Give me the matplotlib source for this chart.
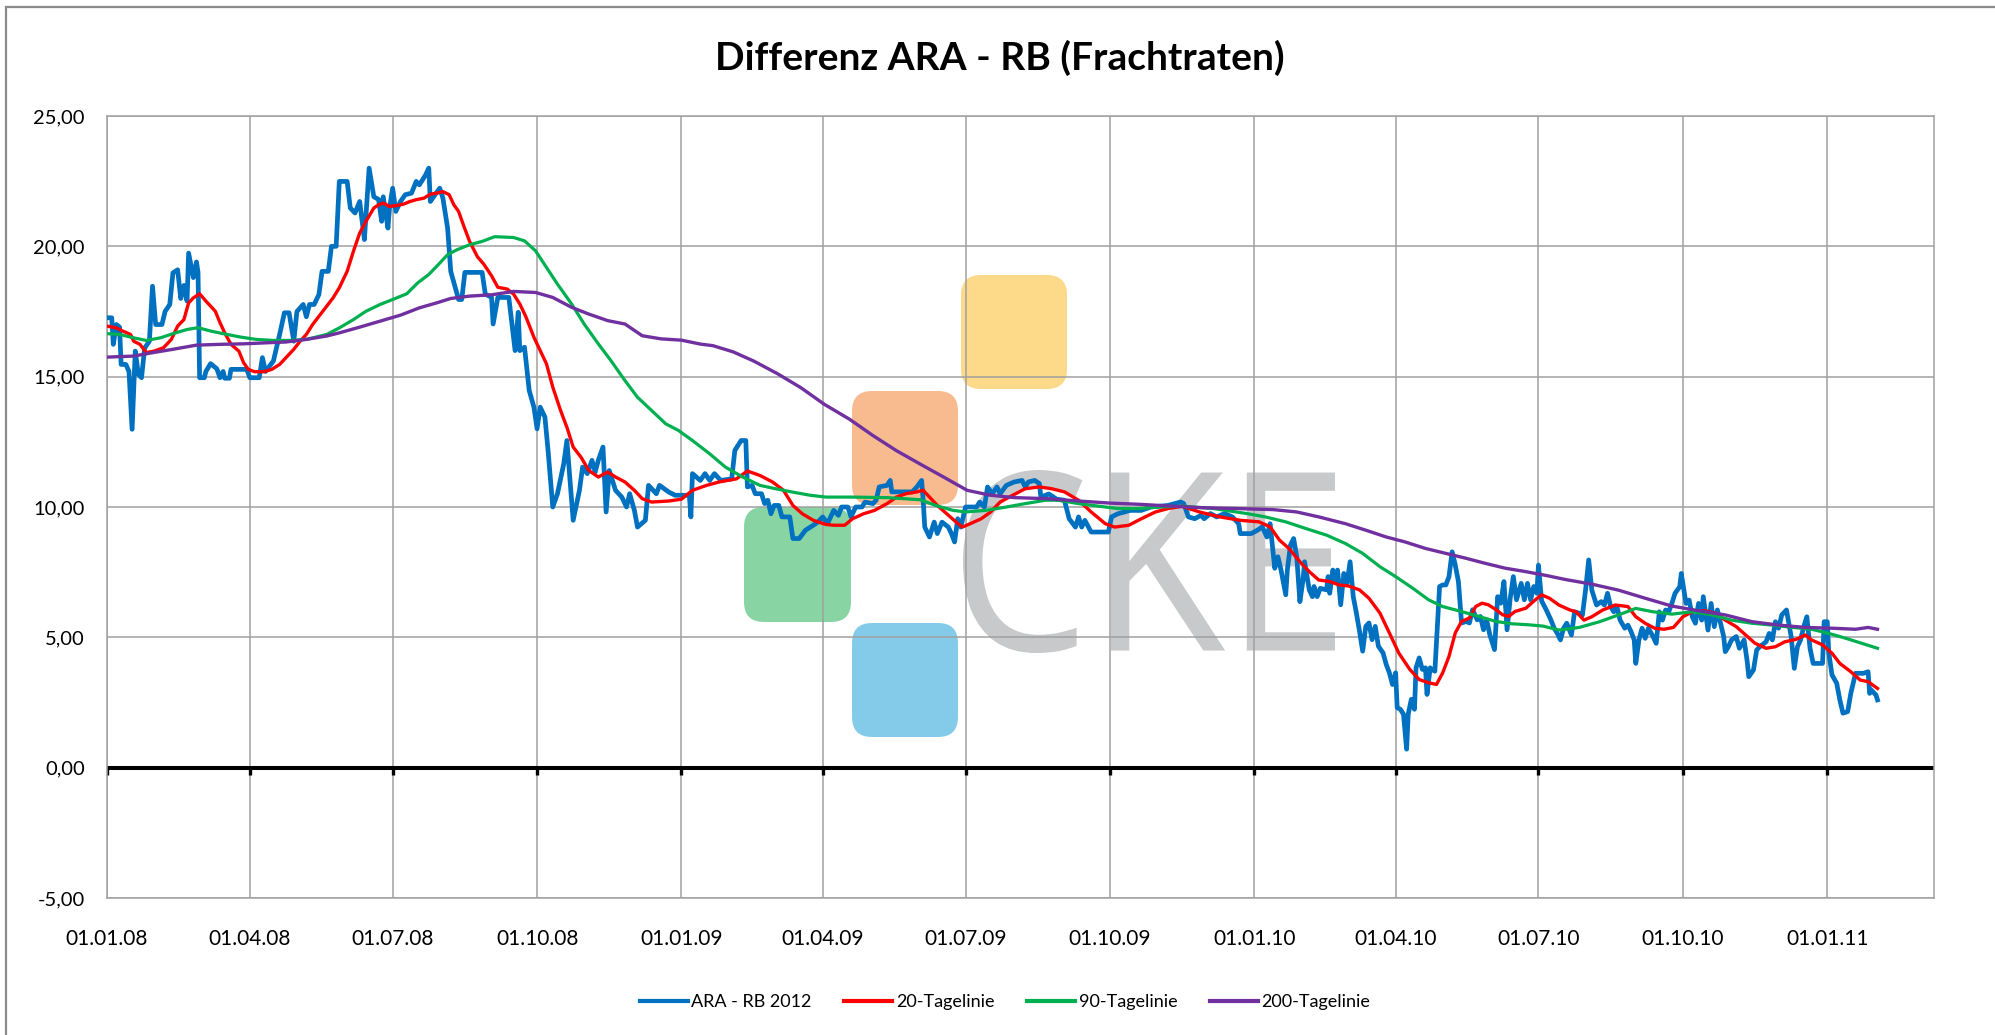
import numpy as np
import matplotlib
matplotlib.use("Agg")
import matplotlib.pyplot as plt
import matplotlib.dates as mdates
from matplotlib.patches import FancyBboxPatch, PathPatch, Rectangle
from matplotlib.textpath import TextPath
from matplotlib.font_manager import FontProperties
from matplotlib.transforms import Affine2D

plt.rcParams['font.family'] = ['Lato', 'DejaVu Sans']

# day offset from 01.01.2008, value
start = np.datetime64('2008-01-01')

ara_rb = [(0,17.26),(3,17.26),(4,16.24),(6,17.0),(8,16.9),(9,15.47),(12,15.47),(14,15.2),(16,12.98),(18,15.98),
    (20,15.09),(22,14.96),(24,16.1),(27,16.36),(29,18.47),(31,17.0),(35,17.0),(37,17.5),(40,17.77),(42,18.98),
    (45,19.1),(47,18.0),(49,18.5),(51,17.9),(52,19.74),(55,18.8),(57,19.4),(58,19.0),(59,14.96),(62,14.96),
    (63,15.2),(66,15.5),(70,15.3),(72,14.96),(74,15.2),(75,14.94),(78,14.94),(79,15.28),(89,15.28),(91,14.96),
    (97,14.96),(99,15.73),(101,15.2),(106,15.6),(110,16.62),(113,17.45),(116,17.45),(119,16.36),(121,17.5),(125,17.77),
    (127,17.3),(129,17.77),(132,17.77),(135,18.15),(137,19.04),(141,19.04),(143,20.0),(146,20.0),(148,22.49),(153,22.49),
    (155,21.47),(158,21.28),(161,21.72),(164,20.26),(165,21.2),(167,23.0),(170,21.9),(173,21.8),(175,20.96),(176,21.9),
    (179,20.7),(180,21.47),(182,22.23),(184,21.34),(187,21.72),(190,21.98),(194,22.04),(197,22.49),(199,22.36),(203,22.74),
    (205,23.0),(206,21.72),(209,21.98),(212,22.23),(214,21.85),(217,20.7),(219,19.04),(222,18.4),(224,17.96),(226,17.96),
    (228,19.0),(239,19.0),(241,18.17),(245,18.04),(246,17.02),(249,18.04),(256,18.04),(257,17.53),(260,16.0),(262,17.47),
    (263,16.0),(266,16.13),(269,14.47),(272,13.83),(274,13.0),(276,13.83),(279,13.45),(281,12.17),(284,10.0),(287,10.51),
    (291,11.66),(293,12.55),(297,9.49),(301,10.64),(303,11.53),(306,11.28),(309,11.79),(311,11.34),(313,11.79),(316,12.3),
    (318,9.81),(320,11.4),(324,10.64),(328,10.38),(331,10.0),(333,10.51),(336,9.87),(338,9.23),(343,9.49),(345,10.83),
    (350,10.51),(352,10.83),(358,10.57),(362,10.45),(371,10.45),(372,9.62),(373,11.28),(378,11.02),(381,11.28),(384,11.02),
    (387,11.28),(391,11.02),(398,11.08),(400,12.17),(404,12.55),(407,12.55),(408,10.77),(411,10.83),(413,10.51),(417,10.51),
    (419,10.13),(421,10.26),(423,9.74),(425,10.06),(428,10.06),(430,9.62),(435,9.62),(437,8.79),(441,8.79),(445,9.11),
    (450,9.3),(453,9.43),(456,9.62),(459,9.36),(463,9.87),(466,9.68),(468,10.0),(472,10.0),(474,9.62),(477,10.0),
    (481,10.0),(483,10.19),(488,10.13),(490,10.26),(492,10.77),(497,10.83),(499,11.02),(500,10.58),(513,10.58),(516,10.77),
    (519,11.02),(520,10.26),(521,9.23),(524,8.85),(527,9.42),(529,8.98),(532,9.42),(536,9.23),(538,8.98),(540,8.66),
    (542,9.55),(544,9.23),(547,10.0),(554,10.0),(556,10.19),(559,10.0),(561,10.77),(564,10.51),(567,10.77),(569,10.51),
    (573,10.83),(578,10.96),(583,11.02),(585,10.77),(587,10.96),(591,11.02),(594,10.9),(595,10.38),(600,10.5),(605,10.3),
    (610,10.26),(613,9.55),(617,9.23),(619,9.62),(621,9.23),(623,9.49),(627,9.04),(632,9.04),(638,9.04),(640,9.62),
    (644,9.74),(652,9.87),(659,9.87),(665,10.0),(676,10.06),(684,10.19),(686,10.13),(689,9.62),(693,9.55),(697,9.68),
    (699,9.55),(703,9.75),(707,9.62),(712,9.75),(717,9.62),(721,9.36),(722,8.98),(729,8.98),(733,9.11),(736,9.24),
    (739,8.85),(741,9.36),(742,8.79),(744,7.65),(746,8.09),(748,7.58),(751,6.63),(752,7.58),(754,8.54),(756,8.79),
    (758,8.09),(760,6.37),(762,7.2),(763,7.9),(766,6.82),(768,6.56),(769,6.95),(771,6.56),(773,6.88),(777,6.82),
    (778,7.33),(779,6.69),(781,7.58),(783,7.2),(784,7.58),(786,6.25),(788,7.45),(790,7.07),(792,7.9),(794,6.56),
    (796,5.93),(798,5.23),(800,4.47),(802,5.42),(804,5.55),(806,4.91),(808,5.42),(810,4.66),(813,4.4),(815,3.96),
    (817,3.64),(819,3.19),(821,3.64),(822,2.3),(824,2.24),(826,2.05),(828,0.71),(829,2.05),(831,2.62),(833,2.24),
    (834,3.83),(836,4.21),(838,3.77),(840,3.83),(841,2.81),(843,3.83),(844,3.77),(846,3.7),(849,6.95),(851,7.01),
    (853,7.01),(855,7.33),(857,8.28),(859,7.77),(861,7.14),(863,5.55),(866,5.61),(868,5.55),(870,6.06),(873,5.67),
    (875,5.8),(877,5.29),(879,5.67),(881,5.1),(884,4.53),(886,6.56),(888,6.31),(890,7.14),(892,5.29),(894,6.5),
    (896,7.33),(898,6.44),(901,7.07),(903,6.44),(905,7.07),(907,6.44),(909,6.95),(911,6.69),(912,7.77),(914,6.4),
    (917,6.05),(920,5.66),(922,5.35),(924,5.15),(926,4.9),(928,5.35),(930,5.54),(933,5.09),(935,5.98),(938,5.92),
    (940,5.85),(942,6.81),(944,7.97),(946,6.81),(949,6.24),(952,6.37),(954,6.24),(956,6.69),(958,6.18),(960,5.98),
    (962,6.18),(964,5.66),(967,5.35),(969,5.47),(971,5.22),(973,4.9),(974,4.0),(976,4.9),(978,5.35),(980,4.96),
    (982,5.35),(985,5.03),(987,4.77),(989,5.98),(991,5.66),(993,6.05),(995,5.98),(997,6.3),(999,6.69),(1002,6.94),
    (1003,7.45),(1005,6.69),(1006,6.3),(1008,6.43),(1010,5.79),(1012,5.54),(1014,6.3),(1016,5.66),(1017,6.56),(1020,5.28),
    (1022,6.3),(1024,5.41),(1026,6.05),(1028,5.54),(1030,5.03),(1031,4.45),(1033,4.64),(1035,4.9),(1038,5.03),(1040,4.58),
    (1043,4.9),(1045,4.07),(1046,3.49),(1049,3.75),(1051,4.51),(1053,4.64),(1057,4.83),(1059,5.15),(1061,4.9),(1063,5.6),
    (1065,5.35),(1067,5.86),(1070,6.05),(1073,5.03),(1075,3.81),(1077,4.64),(1079,4.9),(1081,5.41),(1083,5.79),(1085,4.58),
    (1087,4.0),(1089,4.0),(1093,4.0),(1094,5.6),(1096,5.6),(1097,4.39),(1099,3.56),(1102,3.24),(1104,2.6),(1106,2.09),
    (1109,2.15),(1111,2.85),(1114,3.62),(1119,3.62),(1122,3.68),(1123,2.85),(1124,2.98),(1127,2.79),(1128,2.6)]

ma20 = [(0,16.94),(6,16.87),(10,16.75),(15,16.62),(17,16.36),(21,16.24),(25,15.92),(30,15.98),(36,16.11),(41,16.43),
    (45,16.94),(49,17.19),(52,17.83),(55,18.02),(59,18.18),(63,17.9),(69,17.51),(72,17.07),(75,16.68),(79,16.24),
    (84,15.98),(87,15.54),(90,15.28),(94,15.19),(100,15.19),(105,15.28),(110,15.47),(114,15.73),(119,16.05),(123,16.36),
    (127,16.62),(131,17.0),(136,17.39),(140,17.7),(144,18.02),(148,18.41),(153,19.04),(157,19.81),(161,20.51),(165,20.96),
    (170,21.47),(173,21.59),(176,21.66),(180,21.53),(185,21.57),(189,21.62),(193,21.72),(197,21.79),(202,21.85),(206,22.0),
    (210,22.04),(214,22.1),(218,21.98),(221,21.59),(224,21.34),(227,20.83),(231,20.19),(236,19.6),(240,19.32),(245,18.87),
    (249,18.43),(255,18.36),(259,18.17),(263,17.79),(267,17.28),(272,16.51),(276,16.0),(280,15.49),(284,14.6),(289,13.7),
    (293,13.06),(297,12.3),(302,11.91),(307,11.4),(313,11.15),(319,11.34),(324,11.15),(330,10.96),(336,10.64),(341,10.32),
    (347,10.19),(358,10.23),(366,10.3),(373,10.64),(382,10.83),(390,10.96),(401,11.08),(408,11.38),(416,11.21),(424,10.96),
    (431,10.64),(437,10.06),(443,9.74),(450,9.49),(458,9.33),(463,9.3),(470,9.3),(475,9.55),(482,9.74),(489,9.87),
    (497,10.13),(503,10.38),(509,10.51),(516,10.58),(520,10.64),(524,10.38),(529,10.06),(535,9.74),(541,9.42),(545,9.23),
    (550,9.36),(557,9.55),(563,9.81),(569,10.19),(577,10.45),(585,10.7),(594,10.77),(602,10.7),(610,10.58),(619,10.26),
    (627,9.81),(636,9.36),(642,9.23),(651,9.3),(659,9.55),(668,9.81),(676,9.94),(685,10.03),(696,9.81),(709,9.62),
    (722,9.49),(734,9.43),(741,9.24),(747,8.73),(753,8.41),(760,7.9),(766,7.52),(772,7.2),(779,7.14),(785,7.01),
    (791,6.97),(798,6.82),(804,6.5),(811,5.93),(817,5.17),(823,4.4),(830,3.77),(836,3.38),(842,3.26),(847,3.19),
    (851,3.64),(855,4.27),(859,5.17),(863,5.61),(868,5.74),(872,6.18),(876,6.31),(880,6.25),(885,6.06),(889,5.87),
    (893,5.8),(897,5.99),(904,6.12),(910,6.44),(914,6.63),(919,6.5),(925,6.24),(932,6.05),(936,5.98),(941,5.66),
    (946,5.79),(953,6.05),(961,6.24),(969,6.18),(974,5.79),(980,5.54),(986,5.35),(992,5.31),(998,5.38),(1004,5.79),
    (1010,5.98),(1018,6.02),(1025,5.92),(1031,5.66),(1038,5.41),(1044,5.09),(1050,4.77),(1057,4.58),(1063,4.64),(1069,4.83),
    (1076,4.92),(1082,5.09),(1086,4.9),(1093,4.71),(1099,4.39),(1104,4.0),(1111,3.68),(1117,3.36),(1122,3.3),(1128,3.04)]

ma90 = [(0,16.65),(8,16.62),(17,16.49),(25,16.39),(34,16.49),(42,16.65),(51,16.81),(58,16.88),(66,16.75),(74,16.65),
    (85,16.52),(95,16.43),(106,16.39),(117,16.39),(127,16.43),(140,16.62),(148,16.87),(157,17.19),(165,17.51),(174,17.77),
    (182,17.96),(191,18.18),(198,18.6),(205,18.92),(210,19.23),(217,19.68),(223,19.87),(231,20.06),(239,20.19),(247,20.37),
    (259,20.34),(266,20.21),(273,19.83),(280,19.19),(287,18.55),(296,17.79),(304,17.02),(313,16.26),(321,15.62),(330,14.85),
    (338,14.21),(347,13.7),(356,13.19),(364,12.94),(373,12.55),(384,12.04),(394,11.53),(405,11.15),(416,10.83),(426,10.7),
    (437,10.57),(448,10.45),(458,10.38),(475,10.38),(497,10.36),(518,10.28),(528,10.06),(539,9.87),(547,9.81),(560,9.87),
    (573,10.0),(585,10.13),(598,10.26),(606,10.26),(619,10.13),(632,10.03),(644,9.94),(657,9.94),(670,10.0),(686,10.03),
    (705,9.94),(726,9.75),(738,9.62),(751,9.43),(764,9.17),(777,8.92),(789,8.6),(800,8.22),(811,7.71),(821,7.33),
    (832,6.88),(842,6.44),(851,6.18),(863,5.99),(874,5.8),(885,5.61),(895,5.52),(906,5.48),(915,5.43),(925,5.28),
    (938,5.38),(951,5.6),(963,5.86),(974,6.11),(985,5.98),(997,5.89),(1010,5.98),(1023,5.86),(1035,5.66),(1048,5.54),
    (1061,5.47),(1074,5.38),(1086,5.31),(1097,5.15),(1108,4.96),(1118,4.77),(1128,4.58)]

ma200 = [(0,15.75),(17,15.79),(29,15.92),(42,16.05),(57,16.21),(72,16.24),(87,16.26),(102,16.3),(114,16.33),(127,16.43),
    (140,16.56),(148,16.68),(161,16.9),(174,17.13),(187,17.36),(199,17.64),(210,17.83),(219,18.0),(231,18.09),(245,18.14),
    (259,18.27),(273,18.23),(284,18.04),(296,17.66),(307,17.4),(319,17.15),(330,17.02),(341,16.57),(353,16.45),(366,16.4),
    (378,16.25),(386,16.19),(399,15.95),(412,15.6),(427,15.12),(442,14.58),(457,13.94),(473,13.37),(488,12.74),(503,12.16),
    (518,11.65),(533,11.15),(548,10.64),(563,10.45),(578,10.36),(599,10.32),(619,10.23),(639,10.15),(659,10.1),(679,10.03),
    (699,9.97),(720,9.94),(743,9.9),(758,9.81),(772,9.62),(789,9.36),(802,9.11),(815,8.85),(827,8.66),(840,8.41),
    (853,8.22),(866,8.03),(878,7.84),(891,7.65),(904,7.52),(918,7.36),(929,7.22),(946,7.04),(963,6.81),(980,6.5),
    (997,6.2),(1014,6.02),(1031,5.86),(1048,5.6),(1065,5.47),(1082,5.38),(1099,5.35),(1114,5.31),(1122,5.38),(1128,5.31)]

series_names = ['ARA - RB 2012', '20-Tagelinie', '90-Tagelinie', '200-Tagelinie']
series_data = [ara_rb, ma20, ma90, ma200]
series_colors = ['#0070C0', '#FF0000', '#00B050', '#7030A0']
series_widths = [3.4, 2.4, 2.3, 2.4]

tick_dates = ['2008-01-01', '2008-04-01', '2008-07-01', '2008-10-01', '2009-01-01', '2009-04-01', '2009-07-01',
              '2009-10-01', '2010-01-01', '2010-04-01', '2010-07-01', '2010-10-01', '2011-01-01']
y_ticks = [-5, 0, 5, 10, 15, 20, 25]

W, H = 1995, 1035
fig = plt.figure(figsize=(W / 100, H / 100), dpi=100)
px = Affine2D().scale(1 / W, 1 / H) + fig.transFigure   # pixel coords, origin bottom-left

ax = fig.add_axes([107 / W, 1 - 898 / H, (1934 - 107) / W, (898 - 116) / H])

def to_num(days):
    return mdates.date2num(start + np.array(days, dtype='timedelta64[D]'))

handles = []
for name, data, col, lw in zip(series_names, series_data, series_colors, series_widths):
    d = np.array(data)
    ln, = ax.plot(to_num(d[:, 0].astype(int)), d[:, 1], color=col, lw=lw, label=name,
                  solid_joinstyle='round', zorder=3)
    handles.append(ln)

xt = mdates.date2num(np.array(tick_dates, dtype='datetime64[D]'))
ax.set_xlim(to_num([0])[0], to_num([1164])[0])
ax.set_ylim(-5, 25)
ax.set_xticks(xt)
ax.set_xticklabels([np.datetime64(t, 'D').astype(object).strftime('%d.%m.%y') for t in tick_dates])
ax.set_yticks(y_ticks)
ax.set_yticklabels([f"{v:.2f}".replace('.', ',') for v in y_ticks])
ax.tick_params(axis='both', length=0, colors='black')
ax.tick_params(axis='x', pad=22, labelsize=15)
ax.tick_params(axis='y', pad=16, labelsize=14.5)

grid_col = '#a0a0a0'
ax.grid(True, color=grid_col, lw=1.1)
ax.set_axisbelow(True)
for sp in ax.spines.values():
    sp.set_color(grid_col)
    sp.set_linewidth(1.1)

# zero axis with small tick marks
ax.axhline(0, color='black', lw=2.9, zorder=2.5)
ax.vlines(xt, -0.3, 0, color='black', lw=2.4, zorder=2.5)

# watermark logo (behind gridlines)
squares = [(961, 275, 1067, 389, '#FDD98A'),
           (852, 391, 958, 505, '#F7BB8F'),
           (744, 507, 851, 622, '#88D5A3'),
           (852, 623, 958, 737, '#84CBEA')]
for x0, y0, x1, y1, c in squares:
    p = FancyBboxPatch((x0, H - y1), x1 - x0, y1 - y0, boxstyle='round,pad=0,rounding_size=20',
                       transform=px, facecolor=c, edgecolor='none', zorder=0.2)
    ax.add_artist(p)

tp = TextPath((0, 0), 'CKE', size=100, prop=FontProperties(family='Open Sans'))
bb = tp.get_extents()
tx0, tx1, ty_top, ty_bot = 963, 1335, 470, 653
tr = (Affine2D().translate(-bb.x0, -bb.y0)
      .scale((tx1 - tx0) / bb.width, (ty_bot - ty_top) / bb.height)
      .translate(tx0, H - ty_bot)) + px
ax.add_artist(PathPatch(tp, transform=tr, facecolor='#C8C9CB', edgecolor='none', zorder=0.2))

# title
fig.text(1000 / W, 1 - 70 / H, 'Differenz ARA - RB (Frachtraten)', ha='center', va='baseline',
         fontsize=28, fontweight='bold')

# legend
leg = fig.legend(handles, series_names, loc='center', bbox_to_anchor=(1005 / W, 1 - 1002 / H), ncol=4,
                 frameon=False, fontsize=13, handlelength=2.66, handletextpad=0.2, columnspacing=1.8)
for lh in leg.get_lines():
    lh.set_linewidth(3.0)

# outer chart border
fig.add_artist(Rectangle((6, -20), W + 20, H - 7 + 20, transform=px, fill=False,
                         edgecolor='#8a8a8a', lw=1.6))

fig.savefig('out.png', dpi=100, facecolor='white')
